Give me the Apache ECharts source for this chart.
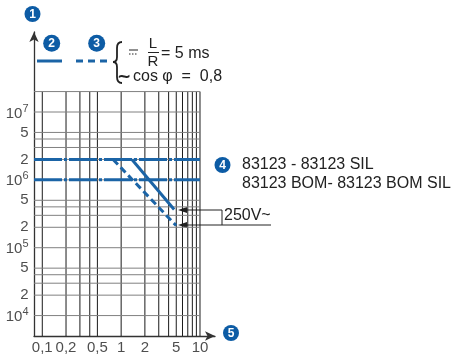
<!DOCTYPE html>
<html>
<head>
<meta charset="utf-8">
<script src="https://cdn.jsdelivr.net/npm/echarts@6/dist/echarts.min.js"></script>
<style>
html, body { margin: 0; padding: 0; background: #fff; }
#chart { width: 455px; height: 358px; }
</style>
</head>
<body>
<div id="chart"></div>
<script>
// log axis ranges
const xMin = 0.0785, xMax = 15.5, xGridMax = 10;
const yMin = 5000, yMax = 1.51e8, yGridMax = 2e7;

// grid lines
const xGridValues = [0.1, 0.2, 0.3, 0.4, 0.5, 1, 2, 3, 4, 5, 6, 7, 8, 9, 10];
const yGridValues = [1e4, 2e4, 3e4, 4e4, 5e4, 1e5, 2e5, 3e5, 4e5, 5e5, 1e6, 2e6, 3e6, 4e6, 5e6, 1e7, 2e7];

// tick labels
const xTickValues = [0.1, 0.2, 0.5, 1, 2, 5, 10];
const xTickLabels = ['0,1', '0,2', '0,5', '1', '2', '5', '10'];
const yTickValues = [1e7, 5e6, 2e6, 1e6, 5e5, 2e5, 1e5, 5e4, 2e4, 1e4];
const yTickLabels = ['{b|10}{s|7}', '5', '2', '{b|10}{s|6}', '5', '2', '{b|10}{s|5}', '5', '2', '{b|10}{s|4}'];

// plateaus (dash-dot lines)
const plateauLevels = [2e6, 1e6];
// curve 2 (solid) and curve 3 (dashed): current (A) / operations
const solidI = [1.37, 4.7];
const solidN = [2e6, 3.65e5];
const dashedI = [0.79, 4.98];
const dashedN = [2e6, 2.12e5];

const blue = '#1b64a6';
const badgeBlue = '#0d5ca5';
const ink = '#222';
const font = 'Liberation Sans, Arial, sans-serif';

const chart = echarts.init(document.getElementById('chart'));

function lineSeries(data, color, width, type, z) {
  return {
    type: 'line', data: data, symbol: 'none', silent: true, animation: false,
    clip: false, z: z,
    lineStyle: { color: color, width: width, type: type }
  };
}

function labelSeries(values, labels, pos, isX) {
  return {
    type: 'scatter', silent: true, animation: false, clip: false,
    symbolSize: 1, itemStyle: { color: 'rgba(0,0,0,0)' },
    data: values.map((v, i) => ({ value: isX ? [v, yMin] : [xMin, v], name: labels[i] })),
    label: {
      show: true, position: pos, distance: isX ? 4 : 5, formatter: '{b}',
      fontFamily: font, fontSize: 15, color: ink,
      rich: {
        b: { fontFamily: font, fontSize: 15, color: ink, verticalAlign: 'bottom' },
        s: { fontFamily: font, fontSize: 11, color: ink, verticalAlign: 'bottom', padding: [0, 0, 7, 0] }
      }
    }
  };
}

function badge(n, x, y, r) {
  return {
    type: 'group', children: [
      { type: 'circle', shape: { cx: x, cy: y, r: r }, style: { fill: badgeBlue } },
      { type: 'text', x: x, y: y + 0.5, style: { text: String(n), fill: '#fff', font: 'bold 12px ' + font, align: 'center', verticalAlign: 'middle' } }
    ]
  };
}

function curve(x1, y1, cpx1, cpy1, cpx2, cpy2, x2, y2) {
  return { type: 'bezierCurve', shape: { x1: x1, y1: y1, cpx1: cpx1, cpy1: cpy1, cpx2: cpx2, cpy2: cpy2, x2: x2, y2: y2 },
    style: { stroke: ink, lineWidth: 1.8, fill: null } };
}

function label(text, x, y, size, align) {
  return { type: 'text', x: x, y: y, style: { text: text, font: size + 'px ' + font, fill: ink, align: align || 'left', verticalAlign: 'middle' } };
}

const series = [];
// vertical grid lines
xGridValues.forEach(v => series.push(lineSeries([[v, yMin], [v, yGridMax]], '#1a1a1a', 1, 'solid', 1)));
// horizontal grid lines
yGridValues.forEach(v => series.push(lineSeries([[xMin, v], [xGridMax, v]], '#808080', 1, 'solid', 1)));
// plateau dash-dot lines
plateauLevels.forEach(v => series.push(lineSeries([[xMin, v], [xGridMax, v]], blue, 3, [28, 2, 3, 2], 5)));
// curves
series.push(lineSeries(solidI.map((v, i) => [v, solidN[i]]), blue, 3, 'solid', 5));
series.push(lineSeries(dashedI.map((v, i) => [v, dashedN[i]]), blue, 3, [7, 4], 5));
// tick labels
series.push(labelSeries(xTickValues, xTickLabels, 'bottom', true));
series.push(labelSeries(yTickValues, yTickLabels, 'left', false));

const option = {
  backgroundColor: '#fff',
  animation: false,
  grid: { left: 34, right: 240, top: 32, bottom: 22 },
  xAxis: {
    type: 'log', min: xMin, max: xMax,
    axisLine: { show: true, symbol: ['none', 'arrow'], symbolSize: [7, 10], lineStyle: { color: '#333', width: 1.3 } },
    axisTick: { show: false }, axisLabel: { show: false }, splitLine: { show: false }
  },
  yAxis: {
    type: 'log', min: yMin, max: yMax,
    axisLine: { show: true, symbol: ['none', 'arrow'], symbolSize: [7, 10], lineStyle: { color: '#333', width: 1.3 } },
    axisTick: { show: false }, axisLabel: { show: false }, splitLine: { show: false }
  },
  series: series,
  graphic: [
    badge(1, 32.5, 14, 8),
    badge(2, 51.7, 43.3, 8.5),
    badge(3, 96.7, 43.3, 8.5),
    badge(4, 222.5, 165, 8),
    badge(5, 231, 333, 8),
    // legend samples
    { type: 'line', shape: { x1: 37, y1: 61, x2: 62, y2: 61 }, style: { stroke: blue, lineWidth: 3 } },
    { type: 'line', shape: { x1: 76, y1: 61, x2: 112, y2: 61 }, style: { stroke: blue, lineWidth: 3, lineDash: [7, 5] } },
    // brace
    curve(122, 42, 118, 42, 117, 44, 117, 48),
    { type: 'line', shape: { x1: 117, y1: 48, x2: 117, y2: 57 }, style: { stroke: ink, lineWidth: 1.8 } },
    curve(117, 57, 117, 60, 116, 62, 113, 62),
    curve(113, 62, 116, 62, 117, 64, 117, 67),
    { type: 'line', shape: { x1: 117, y1: 67, x2: 117, y2: 77 }, style: { stroke: ink, lineWidth: 1.8 } },
    curve(117, 77, 117, 81, 118, 83, 122, 83),
    // DC symbol
    { type: 'line', shape: { x1: 129, y1: 50, x2: 138, y2: 50 }, style: { stroke: ink, lineWidth: 1 } },
    { type: 'line', shape: { x1: 129, y1: 54, x2: 138, y2: 54 }, style: { stroke: ink, lineWidth: 1, lineDash: [1.5, 1.5] } },
    label('L', 153, 44, 15, 'center'),
    { type: 'line', shape: { x1: 148, y1: 52.5, x2: 159, y2: 52.5 }, style: { stroke: ink, lineWidth: 1 } },
    label('R', 153, 62, 15, 'center'),
    label('= 5 ms', 161, 54, 16),
    { type: 'text', x: 117, y: 78, style: { text: '~', font: 'bold 17px DejaVu Sans, sans-serif', fill: ink, align: 'left', verticalAlign: 'middle' } },
    label('cos φ  =  0,8', 133, 77, 16),
    // product references
    label('83123 - 83123 SIL', 242, 165, 16),
    label('83123 BOM- 83123 BOM SIL', 242, 184, 16),
    // 250V~ bracket
    { type: 'polyline', shape: { points: [[186, 210], [222, 210], [222, 225]] }, style: { stroke: ink, lineWidth: 1, fill: null } },
    { type: 'line', shape: { x1: 186, y1: 225, x2: 271, y2: 225 }, style: { stroke: ink, lineWidth: 1 } },
    { type: 'polygon', shape: { points: [[178, 210], [187, 207], [187, 213]] }, style: { fill: ink } },
    { type: 'polygon', shape: { points: [[178, 225], [187, 222], [187, 228]] }, style: { fill: ink } },
    label('250V~', 224, 216, 16)
  ]
};

chart.setOption(option);
</script>
</body>
</html>
